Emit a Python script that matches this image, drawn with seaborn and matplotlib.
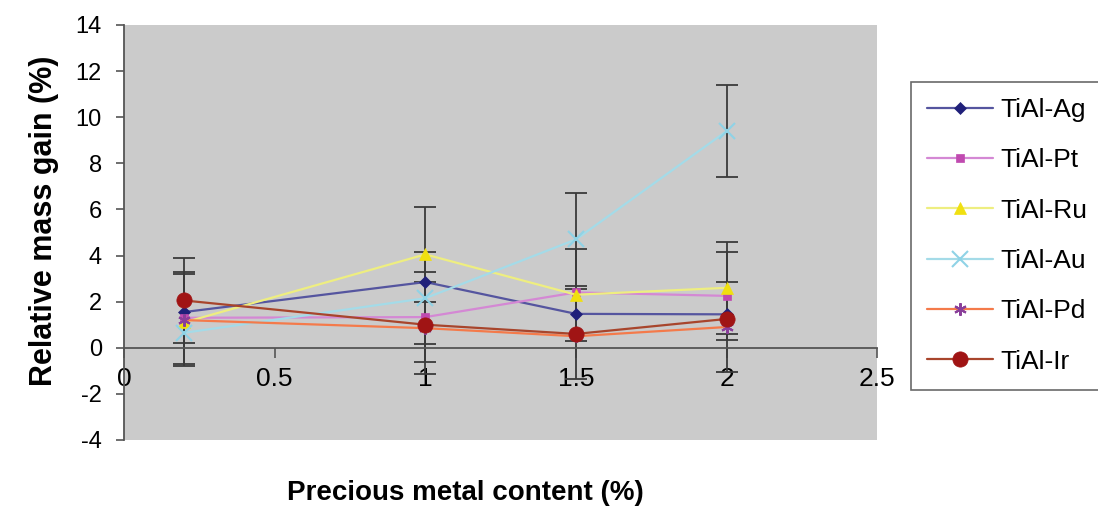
import numpy as np
import pandas as pd
import matplotlib
matplotlib.use("Agg")
import matplotlib.pyplot as plt
import seaborn as sns

# values
content = [0.2, 1.0, 1.5, 2.0]
series_names = ["TiAl-Ag", "TiAl-Pt", "TiAl-Ru", "TiAl-Au", "TiAl-Pd", "TiAl-Ir"]
ag = [1.55, 2.85, 1.47, 1.45]
pt = [1.3, 1.33, 2.4, 2.25]
ru = [1.1, 4.05, 2.3, 2.6]
au = [0.65, 2.15, 4.7, 9.4]
pd_vals = [1.2, 0.85, 0.5, 0.9]
ir = [2.05, 1.0, 0.6, 1.25]

# symmetric error bar half-widths (nan = no bar shown)
ag_err = [np.nan, np.nan, np.nan, np.nan]
pt_err = [2.0, 1.95, np.nan, 1.9]
ru_err = [np.nan, 2.05, 2.0, 2.0]
au_err = [np.nan, 2.0, 2.0, 2.0]
pd_err = [2.0, 2.0, np.nan, 1.97]
ir_err = [1.85, np.nan, 1.97, np.nan]

values = [ag, pt, ru, au, pd_vals, ir]
errors = [ag_err, pt_err, ru_err, au_err, pd_err, ir_err]

df = pd.DataFrame({
    "content": np.tile(content, len(series_names)),
    "gain": np.concatenate(values),
    "err": np.concatenate(errors),
    "alloy": np.repeat(series_names, len(content)),
})

# line colour, marker, marker face, marker size
styles = {
    "TiAl-Ag": ("#55559f", "D", "#20207a", 6),
    "TiAl-Pt": ("#d488d4", "s", "#c04ab0", 6),
    "TiAl-Ru": ("#eeee80", "^", "#f0e010", 8),
    "TiAl-Au": ("#a4dbe8", "x", "#8fd3e6", 11),
    "TiAl-Pd": ("#f47a4a", (6, 2, 0), "#8a3f9a", 9),
    "TiAl-Ir": ("#a8452c", "o", "#a01414", 11),
}

sns.set_style("white")
plt.rcParams["font.family"] = ["Liberation Sans", "DejaVu Sans"]
plt.rcParams["axes.unicode_minus"] = False
plt.rcParams["text.color"] = "black"
plt.rcParams["xtick.labelcolor"] = "black"
plt.rcParams["ytick.labelcolor"] = "black"

fig = plt.figure(figsize=(10.98, 5.09), dpi=100)
ax = fig.add_axes([0.113, 0.1356, 0.686, 0.8153])
ax.set_facecolor("#cbcbcb")

# error bars first so the lines sit on top
for name in series_names:
    sub = df[df["alloy"] == name].dropna(subset=["err"])
    if len(sub):
        ax.errorbar(sub["content"], sub["gain"], yerr=sub["err"], fmt="none",
                    ecolor="#3a3a3a", elinewidth=1.3, capsize=8, capthick=1.3, zorder=2)

for name in series_names:
    lc, mk, mf, ms = styles[name]
    sub = df[df["alloy"] == name]
    sns.lineplot(data=sub, x="content", y="gain", ax=ax, color=lc, linewidth=1.6,
                 marker=mk, markersize=ms, markerfacecolor=mf, markeredgecolor=mf,
                 markeredgewidth=1.5 if mk in ("x", (6, 2, 0)) else 0.5,
                 label=name, zorder=3)

ax.set_xlim(0, 2.5)
ax.set_ylim(-4, 14)
ax.set_xticks(np.arange(0, 2.51, 0.5))
ax.set_xticklabels(["0", "0.5", "1", "1.5", "2", "2.5"])
ax.set_yticks(np.arange(-4, 14.1, 2))
ax.spines["bottom"].set_position(("data", 0))
for s in ("top", "right"):
    ax.spines[s].set_visible(False)
for s in ("left", "bottom"):
    ax.spines[s].set_color("#555555")
    ax.spines[s].set_linewidth(1.3)
ax.tick_params(axis="x", direction="out", length=7, width=1.2, color="#555555",
               labelsize=19, pad=7, bottom=True)
ax.tick_params(axis="y", direction="out", length=6, width=1.2, color="#555555",
               labelsize=17, pad=10, left=True)

ax.set_xlabel("")
ax.set_ylabel("")
fig.text(0.040, 0.567, "Relative mass gain (%)", fontsize=22, fontweight="bold",
         rotation=90, ha="center", va="center")
fig.text(0.4235, 0.018, "Precious metal content (%)", fontsize=20, fontweight="bold",
         ha="center", va="baseline")

leg = ax.legend(loc="upper left", bbox_to_anchor=(0.8297, 0.839), bbox_transform=fig.transFigure,
                borderaxespad=0, fontsize=19, frameon=True, fancybox=False, handlelength=2.5,
                labelspacing=1.0, borderpad=0.6, handletextpad=0.3)
leg.get_frame().set_edgecolor("#444444")
leg.get_frame().set_linewidth(1.2)

fig.savefig("out.png", dpi=100, facecolor="white")
